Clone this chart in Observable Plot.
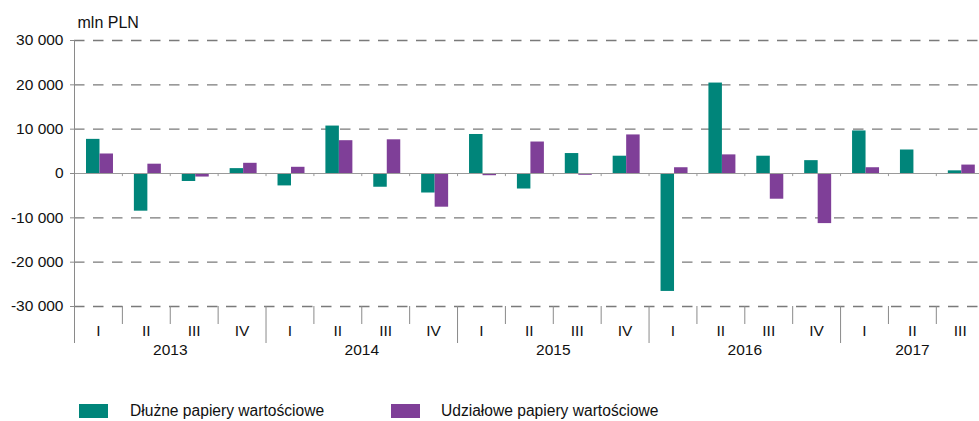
<!DOCTYPE html>
<html>
<head>
<meta charset="utf-8">
<script src="https://cdn.jsdelivr.net/npm/d3@7"></script>
<script src="https://cdn.jsdelivr.net/npm/@observablehq/plot@0.6"></script>
<style>
  html, body { margin: 0; padding: 0; background: #fff; overflow: hidden; }
  #wrap { position: relative; width: 979px; height: 421px; font-family: "Liberation Sans", Arial, sans-serif; }
  .sw { position: absolute; top: 404px; width: 29px; height: 14px; }
  .lt { position: absolute; top: 402px; font-size: 15.6px; color: #111; line-height: 18px; white-space: nowrap; }
</style>
</head>
<body>
<div id="wrap"></div>
<script>
const years = ["2013", "2014", "2015", "2016", "2017"];
const quarters = ["I", "II", "III", "IV", "I", "II", "III", "IV", "I", "II", "III", "IV", "I", "II", "III", "IV", "I", "II", "III"];
const debt = [7700, -8500, -1800, 1100, -2800, 10700, -3100, -4400, 8800, -3500, 4500, 3900, -26600, 20400, 3900, 2900, 9600, 5300, 600];
const equity = [4400, 2100, -800, 2300, 1400, 7400, 7600, -7600, -500, 7100, -400, 8700, 1300, 4200, -5800, -11300, 1300, -200, 1900];
const seriesNames = ["Dłużne papiery wartościowe", "Udziałowe papiery wartościowe"];
const colors = ["#00857a", "#7f3f98"];
const yTicks = [-30000, -20000, -10000, 0, 10000, 20000, 30000];
const unitLabel = "mln PLN";

// derived structures
const yearStart = [0, 4, 8, 12, 16];
const yearCenters = [2, 6, 10, 14, 17.5];
const debtData = debt.map((v, i) => ({i, v}));
const equityData = equity.map((v, i) => ({i, v}));
const bounds = d3.range(0, quarters.length + 1);
const quarterBounds = bounds.filter(b => !yearStart.includes(b));
const qCenters = quarters.map((q, i) => i + 0.5);

const fmt = n => (n < 0 ? "-" : "") + Math.abs(n).toString().replace(/\B(?=(\d{3})+(?!\d))/g, " ");
const grayAxis = "#8a8a8a";
const textColor = "#111";

const chart = Plot.plot({
  width: 979,
  height: 380,
  marginLeft: 74,
  marginRight: 0,
  marginTop: 40,
  marginBottom: 74,
  style: {fontFamily: "Liberation Sans, Arial, sans-serif", fontSize: "15.5px", color: textColor, background: "transparent"},
  x: {type: "linear", domain: [0, quarters.length], range: [74, 983.7]},
  y: {domain: [-30000, 30000]},
  marks: [
    Plot.ruleY(yTicks.filter(t => t !== 0), {stroke: "#7a7a7a", strokeWidth: 1.3, strokeDasharray: "10.5,8.5"}),
    Plot.rectY(debtData, {x1: d => d.i, x2: d => d.i + 1, y: "v", fill: colors[0], insetLeft: 12, insetRight: 22.4}),
    Plot.rectY(equityData, {x1: d => d.i, x2: d => d.i + 1, y: "v", fill: colors[1], insetLeft: 25.5, insetRight: 8.9}),
    Plot.ruleY([0], {stroke: "#9a9a9a", strokeWidth: 1.2}),
    Plot.ruleX(bounds.slice(1), {x: d => d, y1: 0, y2: -700, stroke: "#9a9a9a"}),
    Plot.ruleX([0], {stroke: grayAxis}),
    Plot.axisY(yTicks, {tickSize: 4, tickPadding: 7, tickFormat: fmt, stroke: grayAxis, fill: textColor, fontSize: 15.5, label: null}),
    Plot.axisX(quarterBounds, {tickSize: 18, tickFormat: () => "", stroke: grayAxis, label: null}),
    Plot.axisX(yearStart, {tickSize: 37, tickFormat: () => "", stroke: grayAxis, label: null}),
    Plot.axisX(qCenters, {tickSize: 0, tickPadding: 18, tickFormat: d => quarters[Math.floor(d)], fill: textColor, fontSize: 15.5, label: null}),
    Plot.axisX(yearCenters, {tickSize: 0, tickPadding: 37.5, tickFormat: (d, k) => years[k], fill: textColor, fontSize: 15.5, label: null}),
    Plot.text([unitLabel], {frameAnchor: "top-left", dx: 3, dy: -18, textAnchor: "start", lineAnchor: "middle", fontSize: 16, fill: textColor})
  ]
});

const wrap = document.getElementById("wrap");
wrap.appendChild(chart);
const legendPos = [[79, 130], [391, 441]];
seriesNames.forEach((name, k) => {
  const sw = document.createElement("div");
  sw.className = "sw";
  sw.style.left = legendPos[k][0] + "px";
  sw.style.background = colors[k];
  wrap.appendChild(sw);
  const t = document.createElement("div");
  t.className = "lt";
  t.style.left = legendPos[k][1] + "px";
  t.textContent = name;
  wrap.appendChild(t);
});
</script>
</body>
</html>
